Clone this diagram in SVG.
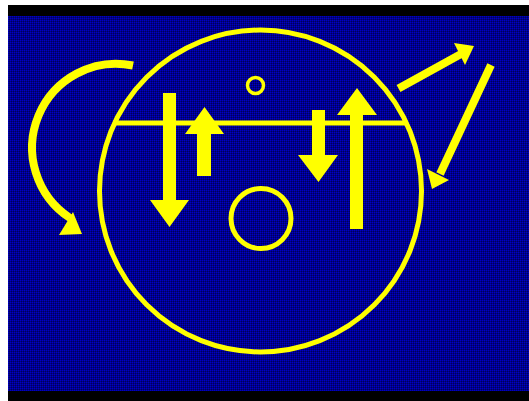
<svg xmlns="http://www.w3.org/2000/svg" width="529" height="401" viewBox="0 0 529 401">
  <defs>
    <pattern id="dither" width="2" height="2" patternUnits="userSpaceOnUse">
      <rect width="2" height="2" fill="#00008c"/>
      <rect width="1" height="1" fill="#0000c4"/>
      <rect x="1" y="1" width="1" height="1" fill="#000058"/>
    </pattern>
  </defs>
  <style>
    .ln { fill: none; stroke: #ffff00; }
    .ar { fill: #ffff00; stroke: none; }
  </style>
  <rect width="529" height="401" fill="#ffffff"/>
  <rect x="8" y="5" width="521" height="396" fill="#000000"/>
  <rect x="8" y="16" width="521" height="375" fill="url(#dither)"/>

  <g id="big-circle"><circle class="ln" cx="260.5" cy="191" r="161" stroke-width="5"/></g>
  <g id="chord"><line class="ln" x1="113" y1="123" x2="407" y2="123" stroke-width="5"/></g>
  <g id="small-circle"><circle class="ln" cx="255.5" cy="85.5" r="8" stroke-width="3.5"/></g>
  <g id="medium-circle"><circle class="ln" cx="261" cy="218.5" r="30" stroke-width="5"/></g>

  <g id="connectors">
    <g id="arrow-down-1"><polygon class="ar" points="163,93 176,93 176,200 189,200 169.5,227 150,200 163,200"/></g>
    <g id="arrow-up-1"><polygon class="ar" points="197,176 211,176 211,134 224,134 204.5,107 185,134 197,134"/></g>
    <g id="arrow-down-2"><polygon class="ar" points="312,110 325,110 325,155 338,155 318.5,182 298,155 312,155"/></g>
    <g id="arrow-up-2"><polygon class="ar" points="350,229 363,229 363,115 377,115 357,88 337,115 350,115"/></g>
    <g id="curved-arrow">
      <path class="ln" d="M133,65.5 A84,84 0 0 0 70,218" stroke-width="8"/>
      <polygon class="ar" points="82,234 73,212 59,235"/>
    </g>
    <g id="arrow-out">
      <line class="ln" x1="398.5" y1="88.5" x2="461" y2="54" stroke-width="8"/>
      <polygon class="ar" points="474,46 454,43 465,65"/>
    </g>
    <g id="arrow-in">
      <line class="ln" x1="491" y1="65" x2="440" y2="174" stroke-width="8"/>
      <polygon class="ar" points="432,189 427,169 449,180"/>
    </g>
  </g>
</svg>
